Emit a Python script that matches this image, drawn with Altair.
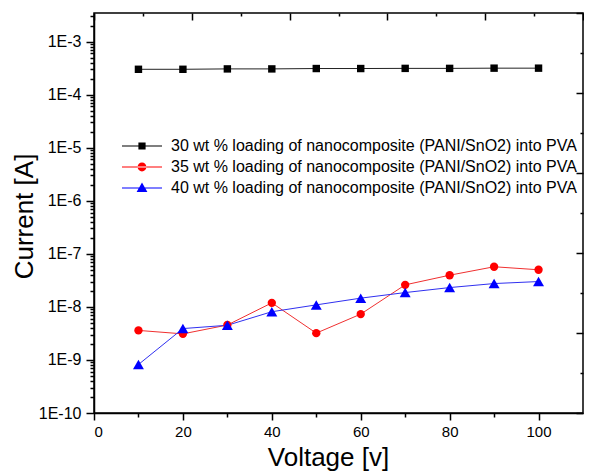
import altair as alt
import pandas as pd

voltage = [10, 20, 30, 40, 50, 60, 70, 80, 90, 100]
series_names = [
    "30 wt % loading of nanocomposite (PANI/SnO2) into PVA",
    "35 wt % loading of nanocomposite (PANI/SnO2) into PVA",
    "40 wt % loading of nanocomposite (PANI/SnO2) into PVA",
]
current_30 = [3.0e-4, 3.0e-4, 3.05e-4, 3.05e-4, 3.1e-4, 3.1e-4, 3.12e-4, 3.12e-4, 3.15e-4, 3.15e-4]
current_35 = [3.6e-9, 3.1e-9, 4.55e-9, 1.19e-8, 3.2e-9, 7.3e-9, 2.6e-8, 3.95e-8, 5.7e-8, 5.0e-8]
current_40 = [8.2e-10, 3.9e-9, 4.5e-9, 8.1e-9, 1.09e-8, 1.46e-8, 1.86e-8, 2.31e-8, 2.75e-8, 3.0e-8]
colors = ["#000000", "#FF0000", "#0000FF"]
line_colors = ["#222222", "#F03030", "#3030F0"]
shapes = ["square", "circle", "triangle-up"]
sizes = [55, 70, 120]

rows = []
for name, vals in zip(series_names, [current_30, current_35, current_40]):
    for v, c in zip(voltage, vals):
        rows.append({"voltage": v, "current": c, "series": name})
df = pd.DataFrame(rows)

X_MIN, X_MAX = 0, 110
Y_MIN, Y_MAX = 1e-10, 3.45e-3
W, H = 489, 400
PAD_L = 86
FONT = "Liberation Sans"

xs = alt.Scale(domain=[X_MIN, X_MAX], nice=False, zero=False)
ys = alt.Scale(type="log", domain=[Y_MIN, Y_MAX], nice=False)

# tick values
x_major = [0, 20, 40, 60, 80, 100]
x_minor = [10, 30, 50, 70, 90]
y_major = [10.0 ** e for e in range(-10, -2)]
y_minor = [m * 10.0 ** e for e in range(-10, -2) for m in range(2, 10) if m * 10.0 ** e <= Y_MAX]
top_major = [0, 22, 44, 66, 88, 110]
top_minor = [11, 33, 55, 77, 99]
ratio = Y_MAX / Y_MIN
right_major = [Y_MIN * ratio ** (k / 10) for k in range(0, 11, 2)]
right_minor = [Y_MIN * ratio ** (k / 10) for k in range(1, 10, 2)]


def tick_layer(xaxis, yaxis):
    return alt.Chart(df).mark_point(opacity=0).encode(
        x=alt.X("voltage:Q", scale=xs, axis=xaxis),
        y=alt.Y("current:Q", scale=ys, axis=yaxis),
    )


ax_x_main = alt.Axis(orient="bottom", values=x_major, tickSize=7, labelFontSize=15,
                     labelPadding=4, title="Voltage [v]", titleFontSize=26,
                     titleX=234, titleY=52, titleBaseline="alphabetic", titleAlign="center",
                     grid=False, domain=True)
ax_y_main = alt.Axis(orient="left", values=y_major, tickSize=8, labelFontSize=16,
                     labelPadding=5, labelExpr="'1E' + round(log(datum.value)/LN10)",
                     title="Current [A]", titleFontSize=26, titleX=-62, titleY=203,
                     titleAngle=270, titleBaseline="alphabetic", titleAlign="center",
                     grid=False, domain=True)
ax_x_minor = alt.Axis(orient="bottom", values=x_minor, tickSize=4, labels=False,
                      domain=False, title=None, grid=False)
ax_y_minor = alt.Axis(orient="left", values=y_minor, tickSize=4, labels=False,
                      domain=False, title=None, grid=False)
ax_top_major = alt.Axis(orient="bottom", offset=-H, values=top_major, tickSize=7,
                        labels=False, domain=False, title=None, grid=False)
ax_top_minor = alt.Axis(orient="bottom", offset=-H, values=top_minor, tickSize=3,
                        labels=False, domain=False, title=None, grid=False)
ax_right_major = alt.Axis(orient="left", offset=-W, values=right_major, tickSize=7,
                          labels=False, domain=False, title=None, grid=False)
ax_right_minor = alt.Axis(orient="left", offset=-W, values=right_minor, tickSize=3,
                          labels=False, domain=False, title=None, grid=False)

layers = []
for name, lc in zip(series_names, line_colors):
    layers.append(
        alt.Chart(df).transform_filter(alt.datum.series == name).mark_line(
            color=lc, strokeWidth=1
        ).encode(
            x=alt.X("voltage:Q", scale=xs, axis=None),
            y=alt.Y("current:Q", scale=ys, axis=None),
        )
    )
for name, c, s, sz in zip(series_names, colors, shapes, sizes):
    layers.append(
        alt.Chart(df).transform_filter(alt.datum.series == name).mark_point(
            shape=s, filled=True, color=c, size=sz, opacity=1
        ).encode(
            x=alt.X("voltage:Q", scale=xs, axis=None),
            y=alt.Y("current:Q", scale=ys, axis=None),
        )
    )

layers.append(tick_layer(ax_x_main, ax_y_main))
layers.append(tick_layer(ax_x_minor, ax_y_minor))
layers.append(tick_layer(ax_top_major, ax_right_major))
layers.append(tick_layer(ax_top_minor, ax_right_minor))

legend_paths = [
    "M-5,-0.13L5,-0.13L5,0.13L-5,0.13Z M-0.9,-0.9L0.9,-0.9L0.9,0.9L-0.9,0.9Z",
    "M-5,-0.13L5,-0.13L5,0.13L-5,0.13Z M-1.1,0A1.1,1.1,0,1,0,1.1,0A1.1,1.1,0,1,0,-1.1,0Z",
    "M-5,-0.13L5,-0.13L5,0.13L-5,0.13Z M0,-1.35L1.35,1.0L-1.35,1.0Z",
]
leg = alt.Legend(orient="none", legendX=40, legendY=125, padding=0, title=None,
                 labelFont=FONT, labelFontSize=16, labelColor="black", labelOffset=21,
                 labelLimit=600, rowPadding=5, symbolSize=64, symbolOpacity=1,
                 symbolStrokeWidth=0)
layers.append(
    alt.Chart(df).mark_point(filled=True, opacity=0).encode(
        x=alt.X("voltage:Q", scale=xs, axis=None),
        y=alt.Y("current:Q", scale=ys, axis=None),
        color=alt.Color("series:N", scale=alt.Scale(domain=series_names, range=colors), legend=leg),
        shape=alt.Shape("series:N", scale=alt.Scale(domain=series_names, range=legend_paths), legend=leg),
    )
)

chart = alt.layer(*layers).resolve_axis(x="independent", y="independent").properties(
    width=W, height=H,
    autosize=alt.AutoSizeParams(type="none"),
    padding={"left": PAD_L, "top": 5, "right": 1, "bottom": 60},
).configure_view(stroke="black", strokeWidth=1.5).configure_axis(
    labelFont=FONT, titleFont=FONT, labelColor="black", titleColor="black",
    tickColor="black", domainColor="black", tickWidth=1.5, domainWidth=1.5,
    titleFontWeight="normal", grid=False,
)

chart.save("out.html", embed_options={"renderer": "svg", "actions": False})
